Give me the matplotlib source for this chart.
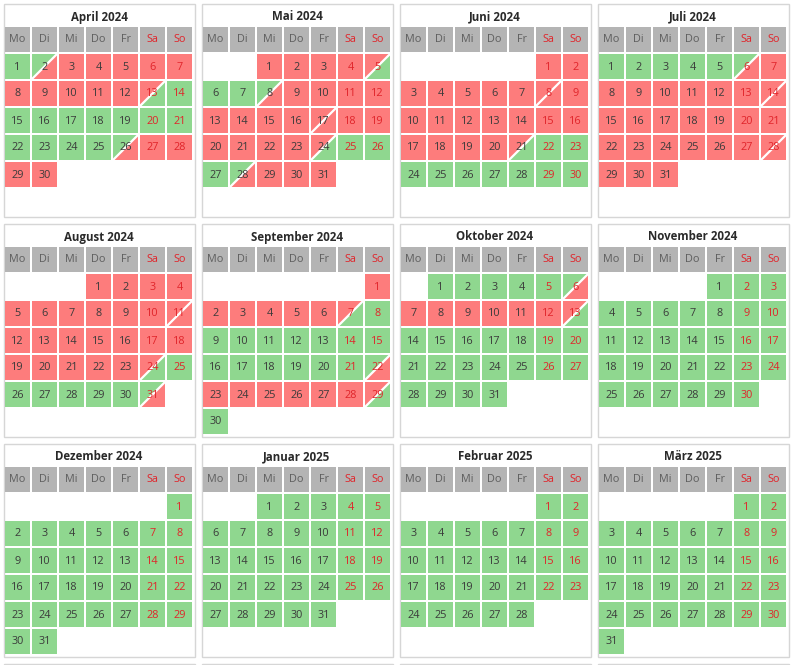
import calendar
import matplotlib
matplotlib.use("Agg")
import matplotlib.pyplot as plt
from matplotlib.patches import Rectangle, Polygon

# ---------------- data ----------------
month_titles = ["April 2024", "Mai 2024", "Juni 2024", "Juli 2024",
                "August 2024", "September 2024", "Oktober 2024", "November 2024",
                "Dezember 2024", "Januar 2025", "Februar 2025", "März 2025"]
years = [2024, 2024, 2024, 2024, 2024, 2024, 2024, 2024, 2024, 2025, 2025, 2025]
months = [4, 5, 6, 7, 8, 9, 10, 11, 12, 1, 2, 3]
weekday_labels = ["Mo", "Di", "Mi", "Do", "Fr", "Sa", "So"]

# G = frei, R = belegt, A = Anreise (frei->belegt), D = Abreise (belegt->frei), X = Wechsel
states = [
    "GARRRRRRRRRRDGGGGGGGGGGGGARRRR",
    "RRRRDGGARRRRRRRRXRRRRRRDGGGARRR",
    "RRRRRRRXRRRRRRRRRRRRDGGGGGGGGG",
    "GGGGGARRRRRRRXRRRRRRRRRRRRRXRRR",
    "RRRRRRRRRRXRRRRRRRRRRRRDGGGGGGA",
    "RRRRRRDGGGGGGGGGGGGGGARRRRRRDG",
    "GGGGGARRRRRRDGGGGGGGGGGGGGGGGGG",
    "GGGGGGGGGGGGGGGGGGGGGGGGGGGGGG",
    "GGGGGGGGGGGGGGGGGGGGGGGGGGGGGGG",
    "GGGGGGGGGGGGGGGGGGGGGGGGGGGGGGG",
    "GGGGGGGGGGGGGGGGGGGGGGGGGGGG",
    "GGGGGGGGGGGGGGGGGGGGGGGGGGGGGGG",
]

# ---------------- style ----------------
GREEN = "#8fd78f"
RED = "#fd7c7c"
HEAD = "#b4b4b4"
BORDER = "#d6d6d6"
TXT = "#3a3a3a"
HEADTXT = "#5e5e5e"
WEEKEND = "#e0242a"
FONT = ["Open Sans", "DejaVu Sans"]

W, H = 795, 665
fig = plt.figure(figsize=(W / 100, H / 100), dpi=100)
ax = fig.add_axes([0, 0, 1, 1])
ax.set_xlim(0, W)
ax.set_ylim(H, 0)
ax.axis("off")

PX, PY = 198, 220          # panel pitch
PW, PH = 191, 213          # panel size
CS, CP = 25, 27            # cell size, cell pitch

def panel_origin(i):
    r, c = divmod(i, 4)
    return 3 + PX * c, 3 + PY * r

# panels (incl. the next row, only its top edge is visible)
for i in range(16):
    x0, y0 = panel_origin(i)
    ax.add_patch(Rectangle((x0 + 0.5, y0 + 0.5), PW, PH, facecolor="white",
                           edgecolor=BORDER, lw=1.0, zorder=1))

for i, title in enumerate(month_titles):
    x0, y0 = panel_origin(i)
    ax.text(x0 + PW / 2 + 0.5, y0 + 14, title, ha="center", va="center",
            fontsize=8.3, fontweight="bold", color="#2a2a2a", family=FONT, zorder=5)
    # header
    for k, lab in enumerate(weekday_labels):
        cx = x0 + 2 + k * CP
        cy = y0 + 24
        ax.add_patch(Rectangle((cx, cy), CS, CS, facecolor=HEAD, edgecolor="none", zorder=2))
        ax.text(cx + CS / 2, cy + CS / 2 + 0.5, lab, ha="center", va="center",
                fontsize=7.8, color=WEEKEND if k >= 5 else HEADTXT, family=FONT, zorder=5)
    first_wd, ndays = calendar.monthrange(years[i], months[i])
    st = states[i]
    for d in range(1, ndays + 1):
        pos = first_wd + d - 1
        row, col = divmod(pos, 7)
        cx = x0 + 2 + col * CP
        cy = y0 + 51 + row * CP
        s = st[d - 1]
        if s in "GR":
            ax.add_patch(Rectangle((cx, cy), CS, CS, facecolor=GREEN if s == "G" else RED,
                                   edgecolor="none", zorder=2))
        else:
            ul, lr = {"A": (GREEN, RED), "D": (RED, GREEN), "X": (RED, RED)}[s]
            ax.add_patch(Polygon([(cx, cy + CS), (cx, cy), (cx + CS, cy)], closed=True,
                                 facecolor=ul, edgecolor="none", zorder=2))
            ax.add_patch(Polygon([(cx, cy + CS), (cx + CS, cy + CS), (cx + CS, cy)], closed=True,
                                 facecolor=lr, edgecolor="none", zorder=2))
            ax.plot([cx, cx + CS], [cy + CS, cy], color="white", lw=1.6,
                    solid_capstyle="butt", zorder=3)
        ax.text(cx + CS / 2, cy + CS / 2 + 0.5, str(d), ha="center", va="center",
                fontsize=7.8, color=WEEKEND if col >= 5 else TXT, family=FONT, zorder=5)

fig.savefig("out.png", dpi=100)
